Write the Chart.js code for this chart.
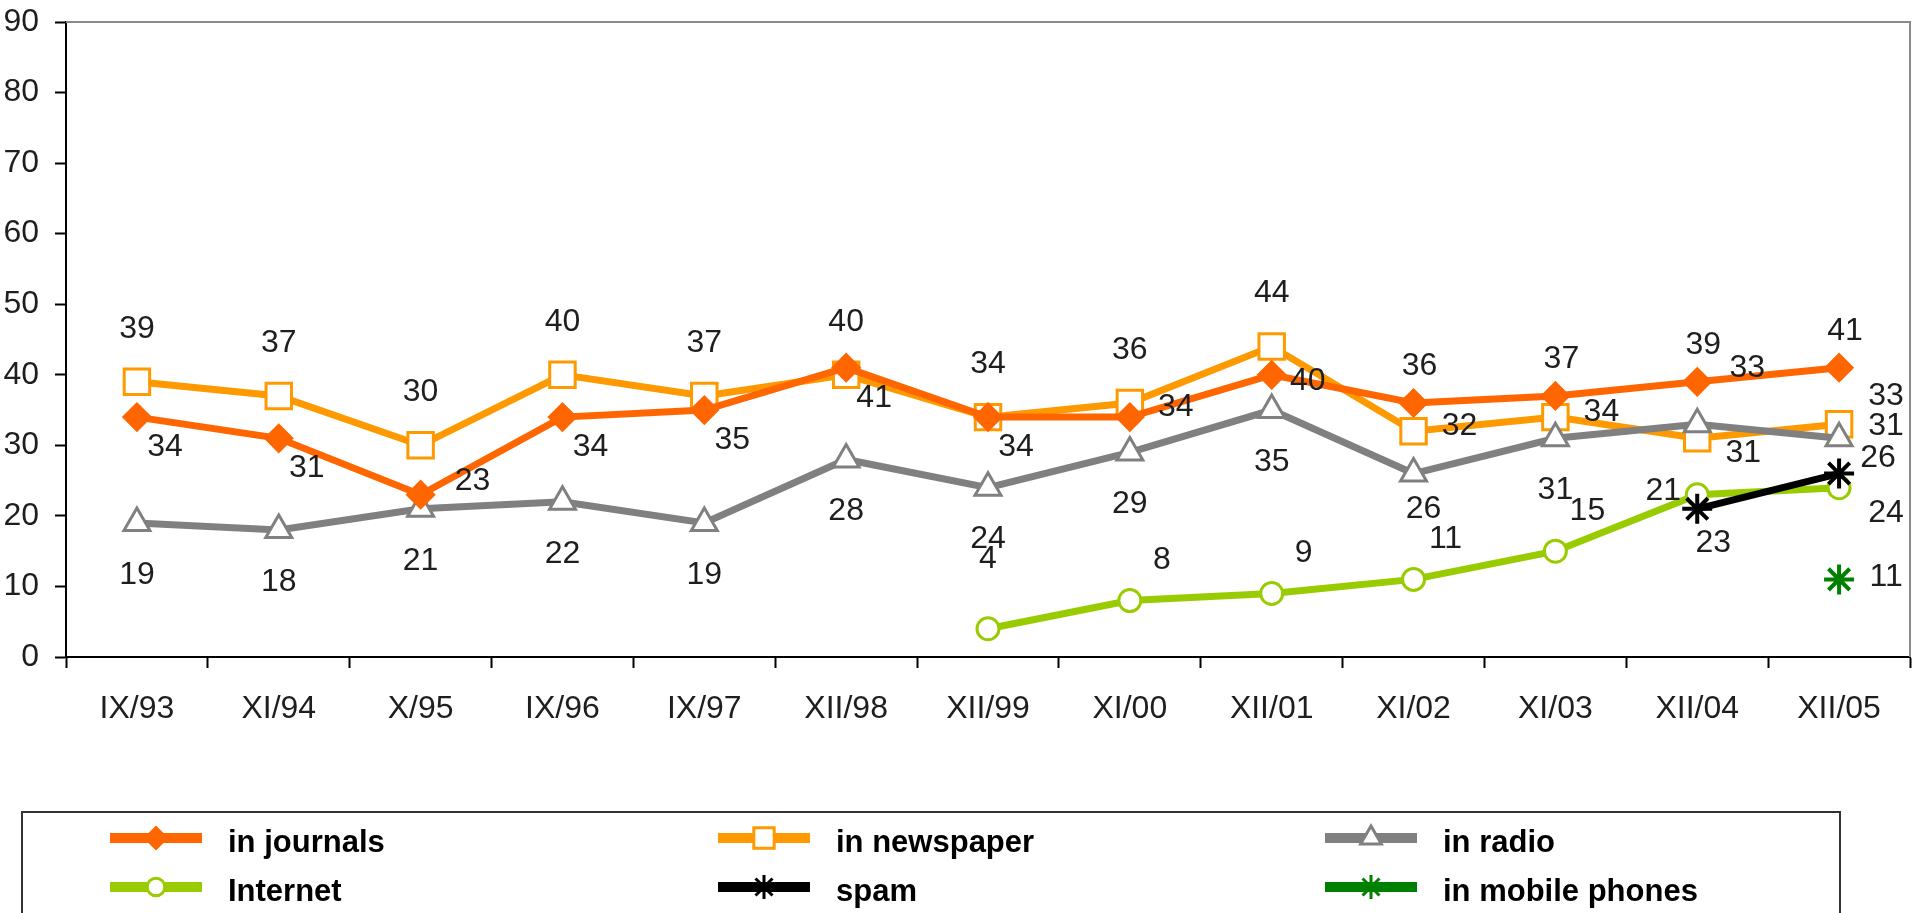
<!DOCTYPE html>
<html>
<head>
<meta charset="utf-8">
<title>Advertising trust</title>
<script src="https://cdn.jsdelivr.net/npm/chart.js@4.4.0/dist/chart.umd.min.js"></script>
<style>
    html, body { margin: 0; padding: 0; background: #fff; }
    #wrap { width: 1915px; height: 913px; position: relative; }
</style>
</head>
<body>
<div id="wrap"><canvas id="chart"></canvas></div>
<script>
// Survey dates (x axis)
const labels = ["IX/93", "XI/94", "X/95", "IX/96", "IX/97", "XII/98", "XII/99", "XI/00", "XII/01", "XI/02", "XI/03", "XII/04", "XII/05"];

// Series values
const journals  = [34, 31, 23, 34, 35, 41, 34, 34, 40, 36, 37, 39, 41];
const newspaper = [39, 37, 30, 40, 37, 40, 34, 36, 44, 32, 34, 31, 33];
const radio     = [19, 18, 21, 22, 19, 28, 24, 29, 35, 26, 31, 33, 31];
const internet  = [null, null, null, null, null, null, 4, 8, 9, 11, 15, 23, 24];
const spam      = [null, null, null, null, null, null, null, null, null, null, null, 21, 26];
const mobile    = [null, null, null, null, null, null, null, null, null, null, null, null, 11];

// Y axis range
const yMin = 0;
const yMax = 90;
const yStep = 10;

// Colors
const colors = {
    journals: "#ff6600",
    newspaper: "#ff9900",
    radio: "#808080",
    internet: "#99cc00",
    spam: "#000000",
    mobile: "#008000",
    text: "#1e1e1e"
};

const FONT = "'Liberation Sans', Arial, sans-serif";

// Where each value label sits relative to its point (px)
function labelOffset(series, i) {
    switch (series) {
        case "in journals":
            if (i >= 9) return [6, -37];
            if (i === 2) return [52, -14];
            if (i === 7) return [46, -10];
            if (i === 8) return [36, 6];
            return [28, 30];
        case "in newspaper":
            if (i < 9) return [0, -53];
            if (i === 11) return [46, 15];
            if (i === 12) return [47, -28];
            return [46, -5];
        case "in radio":
            if (i === 9) return [10, 36];
            if (i === 11) return [50, -56];
            if (i === 12) return [47, -12];
            return [0, 52];
        case "Internet":
            if (i === 6) return [0, -70];
            if (i === 11) return [16, 48];
            if (i === 12) return [47, 26];
            return [32, -40];
        case "spam":
            return i === 11 ? [-34, -18] : [39, -15];
        default:
            return [47, -2];
    }
}

function makeSeries(label, data, color, style, radius, fill, order, markerWidth) {
    return {
        label: label,
        data: data,
        borderColor: color,
        backgroundColor: color,
        borderWidth: 7,
        tension: 0,
        pointStyle: style,
        pointRadius: radius,
        pointHoverRadius: radius,
        pointBorderColor: color,
        pointBackgroundColor: fill,
        pointBorderWidth: markerWidth || 3,
        order: order
    };
}

// Value labels next to the points
const valueLabels = {
    id: "valueLabels",
    afterDatasetsDraw(chart) {
        const ctx = chart.ctx;
        ctx.save();
        ctx.font = "32px " + FONT;
        ctx.fillStyle = colors.text;
        ctx.textAlign = "center";
        ctx.textBaseline = "middle";
        chart.data.datasets.forEach((ds, di) => {
            const meta = chart.getDatasetMeta(di);
            meta.data.forEach((pt, i) => {
                if (ds.data[i] === null) return;
                const off = labelOffset(ds.label, i);
                ctx.fillText(String(ds.data[i]), pt.x + off[0], pt.y + off[1]);
            });
        });
        ctx.restore();
    }
};

// Grey frame on top and right of the plot
const plotFrame = {
    id: "plotFrame",
    beforeDatasetsDraw(chart) {
        const a = chart.chartArea;
        const ctx = chart.ctx;
        ctx.save();
        ctx.strokeStyle = "#8a8a8a";
        ctx.lineWidth = 2;
        ctx.beginPath();
        ctx.moveTo(a.left, a.top);
        ctx.lineTo(a.right, a.top);
        ctx.lineTo(a.right, a.bottom);
        ctx.stroke();
        ctx.restore();
    }
};

// Boxed legend, three columns by two rows
const boxLegend = {
    id: "boxLegend",
    afterDraw(chart) {
        const ctx = chart.ctx;
        const colX = [110, 718, 1325];
        const rowY = [838, 887];
        ctx.save();
        ctx.strokeStyle = "#333";
        ctx.lineWidth = 2;
        ctx.strokeRect(22, 812, 1818, 140);
        chart.data.datasets.forEach((ds, i) => {
            const x = colX[i % 3];
            const y = rowY[Math.floor(i / 3)];
            ctx.strokeStyle = ds.borderColor;
            ctx.lineWidth = 10;
            ctx.beginPath();
            ctx.moveTo(x, y);
            ctx.lineTo(x + 92, y);
            ctx.stroke();
            ctx.fillStyle = ds.pointBackgroundColor;
            ctx.strokeStyle = ds.pointBorderColor;
            ctx.lineWidth = 3;
            Chart.helpers.drawPoint(ctx, {
                pointStyle: ds.pointStyle,
                radius: ds.pointRadius * 0.8,
                rotation: 0,
                borderWidth: 3
            }, x + 46, y);
            ctx.fillStyle = "#000";
            ctx.font = "bold 31px " + FONT;
            ctx.textAlign = "left";
            ctx.textBaseline = "middle";
            ctx.fillText(ds.label, x + 118, y + 5);
        });
        ctx.restore();
    }
};

const ctx = document.getElementById("chart").getContext("2d");
new Chart(ctx, {
    type: "line",
    data: {
        labels: labels,
        datasets: [
            makeSeries("in journals", journals, colors.journals, "rectRot", 13, colors.journals, 1),
            makeSeries("in newspaper", newspaper, colors.newspaper, "rect", 18, "#ffffff", 3),
            makeSeries("in radio", radio, colors.radio, "triangle", 15, "#ffffff", 2),
            makeSeries("Internet", internet, colors.internet, "circle", 11, "#ffffff", 4),
            makeSeries("spam", spam, colors.spam, "star", 15, colors.spam, 0, 4),
            makeSeries("in mobile phones", mobile, colors.mobile, "star", 15, colors.mobile, 0, 4)
        ]
    },
    options: {
        responsive: true,
        maintainAspectRatio: false,
        animation: false,
        layout: {
            autoPadding: false,
            padding: { top: 22, right: 5, left: 0, bottom: 0 }
        },
        plugins: {
            legend: { display: false },
            tooltip: { enabled: false }
        },
        scales: {
            x: {
                offset: true,
                afterFit: function(scale) {
                    scale.height = 256;
                    scale.paddingLeft = 0;
                    scale.paddingRight = 0;
                },
                grid: {
                    offset: true,
                    drawOnChartArea: false,
                    tickLength: 11,
                    tickColor: "#000",
                    tickWidth: 2
                },
                border: { color: "#000", width: 2 },
                ticks: {
                    color: colors.text,
                    font: { family: FONT, size: 32 },
                    padding: 22,
                    maxRotation: 0,
                    autoSkip: false
                }
            },
            y: {
                min: yMin,
                max: yMax,
                afterFit: function(scale) {
                    scale.width = 66;
                    scale.paddingTop = 0;
                    scale.paddingBottom = 0;
                },
                grid: {
                    drawOnChartArea: false,
                    tickLength: 11,
                    tickColor: "#000",
                    tickWidth: 2
                },
                border: { color: "#000", width: 2 },
                ticks: {
                    stepSize: yStep,
                    color: colors.text,
                    font: { family: FONT, size: 32 },
                    padding: 16
                }
            }
        }
    },
    plugins: [plotFrame, valueLabels, boxLegend]
});
</script>
</body>
</html>
